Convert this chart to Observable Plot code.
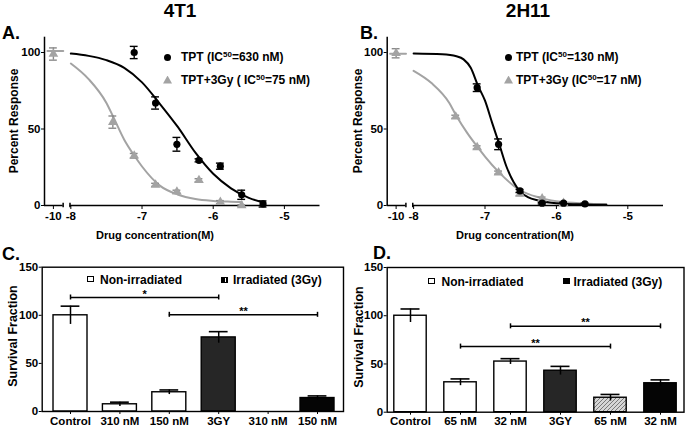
<!DOCTYPE html>
<html><head><meta charset="utf-8">
<script src="https://cdn.jsdelivr.net/npm/d3@7"></script>
<script src="https://cdn.jsdelivr.net/npm/@observablehq/plot@0.6"></script>
<style>
body{margin:0;background:#fff;}
#root{position:relative;width:685px;height:427px;overflow:hidden;background:#fff;font-family:"Liberation Sans",Arial,sans-serif;font-weight:bold;color:#000;}
.abs{position:absolute;white-space:nowrap;line-height:1;}
.mid{transform:translateY(-50%);}
.ctr{transform:translate(-50%,-50%);}
.rot{transform:translate(-50%,-50%) rotate(-90deg);}
.panel{position:absolute;}
.panel svg{overflow:visible;}
.sup{font-size:8px;position:relative;top:-4px;}
</style></head><body><div id="root">
  <div class="abs ctr" style="left:180px;top:10px;font-size:19px">4T1</div>
  <div class="abs ctr" style="left:528px;top:10px;font-size:19px">2H11</div>
  <div class="abs mid" style="left:2px;top:33px;font-size:18px">A.</div>
  <div class="abs mid" style="left:360px;top:33px;font-size:18px">B.</div>
  <div class="abs mid" style="left:2px;top:254px;font-size:18px">C.</div>
  <div class="abs mid" style="left:373px;top:253px;font-size:18px">D.</div>
  <div class="abs ctr" style="left:155px;top:235px;font-size:11px">Drug concentration(M)</div>
  <div class="abs ctr" style="left:515px;top:235px;font-size:11px">Drug concentration(M)</div>
  <div class="abs rot" style="left:13.5px;top:121px;font-size:12px">Percent Response</div>
  <div class="abs rot" style="left:358px;top:121px;font-size:12px">Percent Response</div>
  <div class="abs rot" style="left:13px;top:336px;font-size:12.5px">Survival Fraction</div>
  <div class="abs rot" style="left:358.5px;top:337px;font-size:12.5px">Survival Fraction</div>
</div>
<script>
// ---------- DATA ----------
// x values are log10 of drug concentration (M); -10 is the untreated control on the broken axis
const aTptX   = [-7.11, -6.81, -6.51, -6.2, -5.9, -5.6, -5.3];
const aTptY   = [100, 67, 40, 29.5, 25.7, 7, 1];
const aTptErr = [4, 4, 4.5, 1, 2, 3, 2];
const aGyX    = [-10, -7.41, -7.11, -6.81, -6.51, -6.2, -5.9, -5.6];
const aGyY    = [99, 54.5, 32.5, 13.5, 9, 16.5, 2.2, 0];
const aGyErr  = [4, 4, 1.5, 1, 1, 1, 1, 0.5];
const aTptFitX = [-8, -7.75, -7.5, -7.25, -7, -6.75, -6.5, -6.25, -6, -5.75, -5.5, -5.3];
const aTptFitY = [99.3, 97.8, 95, 90, 80.5, 66.5, 51.5, 34.5, 20.7, 11.2, 5, 2];
const aGyFitX  = [-8, -7.75, -7.5, -7.4, -7.25, -7.1, -7, -6.75, -6.5, -6.25, -6, -5.75, -5.6];
const aGyFitY  = [92.8, 82.6, 67, 57.5, 43, 32, 25.5, 13, 7.2, 4.2, 3, 2.5, 2.3];
const aCtrlFitX = [-10.7, -8.85];
const aCtrlFitY = [101, 101];

const bTptX   = [-7.11, -6.81, -6.51, -6.2, -5.9, -5.6];
const bTptY   = [77, 40, 9.5, 1.5, 1.5, 1];
const bTptErr = [2.5, 3.5, 1, 0.5, 0.5, 0.5];
const bGyX    = [-10, -7.41, -7.11, -6.81, -6.51, -6.2, -5.9];
const bGyY    = [99.5, 58, 38, 21.5, 7.5, 4.5, 1.5];
const bGyErr  = [3, 1, 1, 1, 1, 1, 1];
const bTptFitX = [-8, -7.6, -7.4, -7.3, -7.2, -7.1, -7, -6.9, -6.8, -6.7, -6.6, -6.5, -6.4, -6.25, -6, -5.6, -5.3];
const bTptFitY = [99.3, 98.8, 97.5, 95.5, 90, 78.5, 68.5, 54, 40, 25.5, 15.3, 8.7, 5.5, 3.3, 1.5, 0.7, 0.5];
const bGyFitX  = [-8, -7.75, -7.5, -7.4, -7.25, -7.1, -7, -6.8, -6.6, -6.5, -6.25, -6, -5.6, -5.3];
const bGyFitY  = [88, 80, 67, 58.5, 47.5, 38, 32, 21.5, 13, 9.8, 5.3, 2.8, 1.3, 0.8];
const bCtrlFitX = [-10.7, -8.85];
const bCtrlFitY = [99.2, 99.2];

const doseTicks = [-10, -8, -7, -6, -5];
const pctTicks = [0, 50, 100];

// Bar panels
const cLabels = ["Control", "310 nM", "150 nM", "3GY", "310 nM", "150 nM"];
const cValues = [100, 7.5, 20, 77, 0, 14];
const cErrs   = [9.5, 2.2, 2.4, 6, 0, 2.2];
const cGroup  = ["non", "non", "non", "rad", "radDrug", "radDrug"];
const cSigFrom = [0, 2];
const cSigTo   = [3, 5];
const cSigY    = [118.5, 100.5];
const cSigText = ["*", "**"];

const dLabels = ["Control", "65 nM", "32 nM", "3GY", "65 nM", "32 nM"];
const dValues = [100, 31, 52.5, 43, 15, 30];
const dErrs   = [7, 3.5, 3, 4.5, 3.4, 3.5];
const dGroup  = ["non", "non", "non", "rad", "radDrugHi", "radDrugLo"];
const dSigFrom = [1, 2];
const dSigTo   = [4, 5];
const dSigY    = [68, 89];
const dSigText = ["**", "**"];
const survTicks = [0, 50, 100, 150];

// ---------- DRAWING ----------
const FONT = "'Liberation Sans', Arial, sans-serif";
const GRAY = "#a3a3a3";
const brk = v => v > -8.5 ? v : -8.245 + (v + 10) * 0.12;   // broken axis: control segment
const X0 = -8.37;
const hyph = d => (d < 0 ? "-" : "") + Math.abs(d);

function dosePanel(o) {
  const pts = (X, Y, E) => X.map((x, i) => ({x: brk(x), y: Y[i], e: E[i]}));
  const ln = (X, Y) => X.map((x, i) => ({x: brk(x), y: Y[i]}));
  const tpt = pts(o.tX, o.tY, o.tE), gy = pts(o.gX, o.gY, o.gE);
  const cap = 0.055;
  const err = (data, color) => [
    Plot.ruleX(data, {x: "x", y1: d => d.y - d.e, y2: d => d.y + d.e, stroke: color, strokeWidth: 1.4}),
    Plot.ruleY(data, {y: d => d.y + d.e, x1: d => d.x - cap, x2: d => d.x + cap, stroke: color, strokeWidth: 1.4}),
    Plot.ruleY(data, {y: d => d.y - d.e, x1: d => d.x - cap, x2: d => d.x + cap, stroke: color, strokeWidth: 1.4})
  ];
  return Plot.plot({
    width: o.width, height: 220,
    marginLeft: o.ml, marginRight: o.mr, marginTop: 36.7, marginBottom: 15,
    x: {type: "linear", domain: [X0, -4.5]},
    y: {type: "linear", domain: [0, 110]},
    style: {fontFamily: FONT, fontWeight: "bold", fontSize: "11.5px", color: "#000", background: "transparent", overflow: "visible"},
    marks: [
      Plot.ruleX([X0], {y1: 0, y2: 110, strokeWidth: 1.5}),
      Plot.ruleY([0], {x1: X0, x2: -8.108, strokeWidth: 1.5}),
      Plot.ruleY([0], {x1: -8.012, x2: -4.5, strokeWidth: 1.5}),
      Plot.ruleX([-8.108, -8.012], {y1: -1.4, y2: 1.4, strokeWidth: 1.5}),
      Plot.axisX({ticks: doseTicks.map(brk), tickFormat: d => d < -8.1 ? "-10" : hyph(d), tickSize: 4, tickPadding: 2, label: null}),
      Plot.axisY({ticks: pctTicks, tickSize: 3, tickPadding: 1, label: null}),
      Plot.line(ln(o.cX, o.cY), {x: "x", y: "y", stroke: GRAY, strokeWidth: 2}),
      Plot.line(ln(o.gfX, o.gfY), {x: "x", y: "y", stroke: GRAY, strokeWidth: 2, curve: "monotone-x"}),
      Plot.line(ln(o.tfX, o.tfY), {x: "x", y: "y", stroke: "#000", strokeWidth: 2, curve: "monotone-x"}),
      ...err(gy, "#8a8a8a"),
      ...err(tpt, "#000"),
      Plot.dot(gy, {x: "x", y: "y", symbol: "triangle", r: 3.6, fill: GRAY}),
      Plot.dot(tpt, {x: "x", y: "y", r: 3.6, fill: "#000"})
    ]
  });
}

function barPanel(o) {
  const bars = o.labels.map((l, i) => ({i, v: o.values[i], e: o.errs[i], g: o.group[i]}));
  const eb = bars.filter(d => d.e > 0);
  const sigs = o.sf.map((f, i) => ({f, t: o.st[i], y: o.sy[i], s: o.stx[i]}));
  const ends = sigs.flatMap(d => [{x: d.f, y: d.y}, {x: d.t, y: d.y}]);
  const hw = o.half, cap = o.cap;
  return Plot.plot({
    width: o.width, height: 187,
    marginLeft: o.ml, marginRight: o.mr, marginTop: o.mt, marginBottom: o.mb,
    x: {type: "linear", domain: o.xd},
    y: {type: "linear", domain: [0, 150]},
    color: {type: "ordinal", domain: ["non", "rad", "radDrug", "radDrugHi", "radDrugLo"],
            range: ["#ffffff", "#262626", "#050505", "url(#hatchD)", "#050505"]},
    style: {fontFamily: FONT, fontWeight: "bold", fontSize: "11.5px", color: "#000", background: "transparent", overflow: "visible"},
    marks: [
      Plot.rectY(bars.filter(d => d.v > 0), {x1: d => d.i - hw, x2: d => d.i + hw, y1: 0, y2: "v", fill: "g", stroke: "#000", strokeWidth: 1.4}),
      Plot.ruleX(eb, {x: "i", y1: d => d.v - d.e, y2: d => d.v + d.e, strokeWidth: 1.5}),
      Plot.ruleY(eb, {y: d => d.v + d.e, x1: d => d.i - cap, x2: d => d.i + cap, strokeWidth: 1.6}),
      Plot.ruleY(sigs, {y: "y", x1: "f", x2: "t", strokeWidth: 1.5}),
      Plot.ruleX(ends, {x: "x", y1: d => d.y - 2.6, y2: d => d.y + 2.6, strokeWidth: 1.5}),
      Plot.text(sigs, {x: d => (d.f + d.t) / 2, y: "y", text: "s", dy: -3.5, fontSize: 11}),
      Plot.frame({stroke: "#000", strokeWidth: 1.4}),
      Plot.axisX({ticks: d3.range(o.labels.length), tickFormat: i => o.labels[i], tickSize: 3, tickPadding: 2, label: null}),
      Plot.axisY({ticks: survTicks, tickSize: 3, tickPadding: 1, label: null})
    ]
  });
}

function place(node, left, top, w, h) {
  const div = document.createElement("div");
  div.className = "panel";
  Object.assign(div.style, {left: left + "px", top: top + "px", width: w + "px", height: h + "px"});
  div.appendChild(node);
  document.getElementById("root").appendChild(div);
  return div;
}

place(dosePanel({width: 342, ml: 44, mr: 22.5,
  tX: aTptX, tY: aTptY, tE: aTptErr, gX: aGyX, gY: aGyY, gE: aGyErr,
  tfX: aTptFitX, tfY: aTptFitY, gfX: aGyFitX, gfY: aGyFitY, cX: aCtrlFitX, cY: aCtrlFitY}), 0, 0, 342, 220);
place(dosePanel({width: 343, ml: 44.7, mr: 22,
  tX: bTptX, tY: bTptY, tE: bTptErr, gX: bGyX, gY: bGyY, gE: bGyErr,
  tfX: bTptFitX, tfY: bTptFitY, gfX: bGyFitX, gfY: bGyFitY, cX: bCtrlFitX, cY: bCtrlFitY}), 342, 0, 343, 220);

place(barPanel({width: 345, ml: 41.7, mr: 2, mt: 26.7, mb: 16, xd: [-0.573, 5.526], half: 0.344, cap: 0.19,
  labels: cLabels, values: cValues, errs: cErrs, group: cGroup, sf: cSigFrom, st: cSigTo, sy: cSigY, stx: cSigText}), 0, 240, 345, 187);
const dNode = barPanel({width: 343, ml: 44.7, mr: 1.5, mt: 27, mb: 15.3, xd: [-0.466, 5.47], half: 0.324, cap: 0.19,
  labels: dLabels, values: dValues, errs: dErrs, group: dGroup, sf: dSigFrom, st: dSigTo, sy: dSigY, stx: dSigText});
dNode.insertAdjacentHTML("afterbegin",
  '<defs><pattern id="hatchD" patternUnits="userSpaceOnUse" width="4" height="4">' +
  '<rect width="4" height="4" fill="#d6d6d6"/>' +
  '<path d="M-1,1 l2,-2 M0,4 l4,-4 M3,5 l2,-2" stroke="#6e6e6e" stroke-width="0.9"/></pattern></defs>');
place(dNode, 342, 240, 343, 187);

// ---------- LEGENDS (HTML) ----------
const root = document.getElementById("root");
function add(html) { root.insertAdjacentHTML("beforeend", html); }
function circle(cx, cy) { add(`<div class="abs" style="left:${cx-3.5}px;top:${cy-3.5}px;width:7px;height:7px;border-radius:50%;background:#000"></div>`); }
function tri(cx, cy) { add(`<div class="abs" style="left:${cx-4.5}px;top:${cy-4}px;width:9px;height:8px;background:${GRAY};clip-path:polygon(50% 0,100% 100%,0 100%)"></div>`); }
function sq(x, y, fill, extra = "") { add(`<div class="abs" style="left:${x}px;top:${y}px;width:5px;height:4px;border:1.5px solid #000;background:${fill};${extra}"></div>`); }
function txt(x, y, s, size = 12) { add(`<div class="abs mid" style="left:${x}px;top:${y}px;font-size:${size}px">${s}</div>`); }

circle(167.5, 57); txt(181, 57, 'TPT (IC<span class="sup">50</span>=630 nM)');
tri(167.5, 79.5);  txt(181, 79.5, 'TPT+3Gy ( IC<span class="sup">50</span>=75 nM)');
circle(508.5, 57); txt(516, 57, 'TPT (IC<span class="sup">50</span>=130 nM)');
tri(508.5, 79.5);  txt(516, 79.5, 'TPT+3Gy (IC<span class="sup">50</span>=17 nM)');

sq(87, 276, "#fff"); txt(100, 280, "Non-irradiated");
sq(221, 276.5, "linear-gradient(90deg,#000 0 55%,#fff 55% 75%,#000 75%)"); txt(233, 280, "Irradiated (3Gy)");
sq(428, 278, "#fff"); txt(441.5, 281.5, "Non-irradiated");
sq(562.5, 278, "#000"); txt(573.5, 281.5, "Irradiated (3Gy)");
</script></body></html>
